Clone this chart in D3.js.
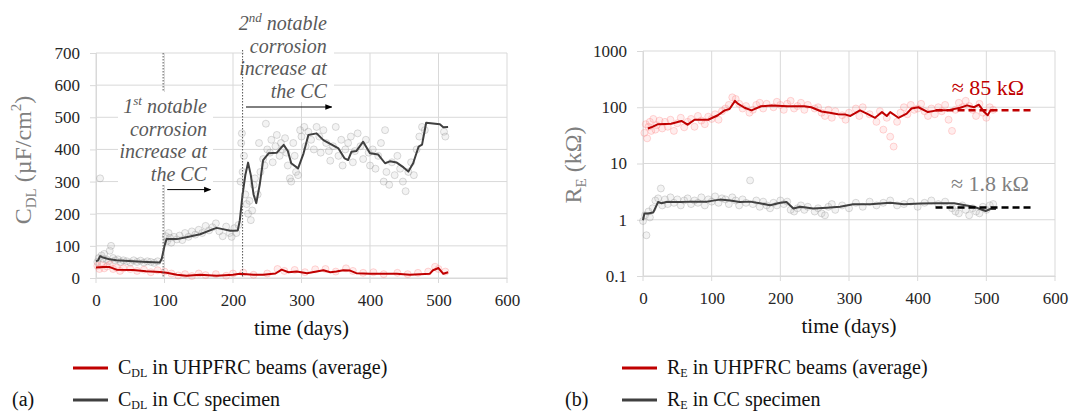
<!DOCTYPE html>
<meta charset="utf-8">
<head>
<script src="https://d3js.org/d3.v7.min.js"></script>
<style>
  body { margin: 0; background: #fff; }
  svg text { font-family: "Liberation Serif", "DejaVu Serif", serif !important; }
</style>
</head>
<body>
<div id="svg-container"></div>
</body>
<script>
const width = 1069;
const height = 411;

// axis ticks
const dayTicks = [0, 100, 200, 300, 400, 500, 600];
const cdlTicks = [0, 100, 200, 300, 400, 500, 600, 700];
const reTicks = [0.1, 1, 10, 100, 1000];

// (a) C_DL, µF/cm2 -- moving average lines [day, value]
const cdlCC = [[0,52],[3,55],[6,68],[9,65],[13,62],[20,58],[30,55],[54,52],[75,50],[93,48],[96,60],[100,100],[103,121],[118,121],[132,127],[152,136],[171,152],[176,156],[185,152],[196,147],[207,148],[210,180],[214,260],[218,320],[222,359],[226,320],[230,260],[234,233],[239,290],[244,367],[252,388],[264,390],[274,414],[280,395],[285,357],[295,341],[303,388],[310,445],[322,450],[332,429],[342,417],[354,403],[363,372],[368,367],[373,393],[380,395],[390,424],[400,388],[412,384],[422,357],[429,363],[439,359],[449,344],[456,331],[463,357],[471,409],[476,415],[482,483],[502,478],[507,469],[514,470]];
const cdlUH = [[0,33],[10,34],[20,34],[30,26],[54,25],[73,21],[93,19],[103,16],[118,10],[132,7],[152,10],[176,7],[200,10],[210,13],[230,10],[244,10],[262,14],[271,26],[281,18],[293,20],[308,15],[332,24],[342,18],[351,20],[361,24],[371,23],[380,15],[400,13],[419,13],[439,13],[458,10],[473,12],[487,13],[492,24],[500,31],[507,13],[514,18]];

// (a) individual measurements
const cdlCCPts = [[2,50],[4,62],[6,310],[8,70],[10,60],[12,75],[15,58],[18,52],[20,85],[22,100],[25,62],[28,55],[32,58],[36,50],[40,55],[45,52],[50,48],[55,55],[60,50],[65,54],[70,48],[75,52],[80,50],[85,47],[90,52],
  [102,130],[104,115],[106,140],[108,125],[110,110],[114,128],[118,120],[122,132],[126,118],[130,140],[135,128],[140,145],[145,135],[150,150],[155,140],[160,162],[165,148],[170,158],[175,170],[180,145],[185,130],[190,160],[195,140],[198,128],[202,155],[205,140],[208,165],
  [211,300],[212,420],[213,450],[214,330],[216,380],[218,260],[220,230],[222,200],[224,240],[226,180],[228,210],[230,290],[232,310],[236,260],[238,420],[240,330],[244,370],[246,350],[248,480],[250,400],
  [254,390],[256,430],[258,360],[262,410],[264,445],[268,380],[270,420],[272,400],[276,435],[278,390],[280,350],[283,310],[285,300],[288,420],[290,380],[292,330],[295,320],[298,460],[300,440],
  [304,470],[306,410],[310,455],[314,430],[318,400],[322,470],[326,440],[328,390],[332,460],[336,420],[340,395],[342,365],[346,410],[350,470],[354,380],[358,430],[360,350],
  [364,400],[368,420],[372,440],[375,360],[378,395],[382,450],[386,410],[390,370],[394,430],[398,390],[400,350],[404,400],[408,340],[412,380],[416,420],[420,300],
  [422,460],[424,330],[428,290],[432,360],[436,320],[440,380],[444,340],[448,300],[452,270],[456,330],[460,360],[464,320],[468,400],[472,440],[476,470],[480,460],[508,455],[510,440]];
const cdlUHPts = [[2,38],[5,28],[8,40],[12,30],[16,36],[20,42],[25,28],[30,32],[35,22],[40,30],[50,28],[60,22],[70,26],[80,18],[90,24],[100,20],[110,14],[120,8],[130,12],[140,6],[150,14],[160,9],[175,12],[190,7],[200,14],[215,17],[230,10],[250,14],[265,28],[275,22],[290,25],[305,18],[320,27],[335,28],[350,20],[365,30],[375,22],[390,16],[405,18],[420,12],[440,16],[455,12],[470,16],[485,20],[495,35],[500,28],[510,20]];

// (b) R_E, kOhm -- moving average lines
const reUH = [[7,42],[12,44],[22,50],[41,51],[56,57],[65,49],[75,60],[95,60],[109,72],[119,88],[126,93],[134,130],[138,116],[148,98],[158,88],[172,104],[187,107],[211,104],[235,104],[245,100],[260,84],[272,80],[284,75],[295,74],[302,70],[316,88],[326,77],[338,65],[348,82],[355,70],[360,82],[372,65],[384,77],[391,95],[401,100],[415,82],[428,88],[443,88],[462,98],[472,108],[482,100],[489,111],[497,82],[502,72],[506,88],[511,88]];
const reCC = [[0,0.98],[2,1.29],[7,1.29],[15,1.35],[22,2.07],[27,1.97],[34,2.07],[54,2.07],[73,2.1],[93,2.1],[112,2.28],[127,2.2],[141,2.07],[156,2.1],[170,1.97],[185,1.81],[200,2.0],[209,2.07],[219,1.58],[229,1.7],[248,1.58],[268,1.64],[287,1.7],[306,1.88],[331,1.88],[360,2.0],[380,1.88],[404,1.94],[428,1.97],[453,1.97],[467,1.83],[482,1.7],[499,1.43],[506,1.55],[514,1.55]];

// (b) individual measurements
const reUHPts = [[2,35],[4,50],[6,28],[8,45],[10,55],[12,38],[15,62],[18,40],[20,48],[24,58],[28,42],[32,55],[36,45],[40,60],[45,38],[50,52],[55,65],[60,44],[65,55],[70,62],[75,45],[80,70],[85,58],[90,50],[95,68],[100,62],[105,75],[110,60],[115,85],[120,95],[125,110],[130,150],[135,140],[140,115],[145,95],[150,105],[155,80],[160,90],[165,110],[170,120],[175,95],[180,115],[190,100],[195,125],[200,110],[205,90],[210,115],[215,130],[220,95],[225,105],[230,120],[235,90],[240,110],[250,95],[255,100],[260,80],[265,70],[270,90],[275,65],[280,85],[290,72],[295,60],[300,80],[310,95],[315,70],[320,100],[330,75],[340,55],[345,85],[350,40],[355,65],[360,30],[365,20],[370,55],[375,80],[380,100],[385,75],[390,110],[395,90],[400,95],[405,115],[410,85],[415,70],[420,95],[425,75],[430,100],[435,85],[440,110],[445,60],[450,38],[455,90],[460,120],[465,100],[470,130],[475,105],[480,90],[485,70],[490,115],[495,80],[500,65],[505,100],[510,90]];
const reCCPts = [[0,0.95],[3,1.2],[5,0.53],[8,1.4],[10,1.1],[14,1.6],[18,2.2],[22,2.4],[26,3.6],[28,1.8],[32,2.3],[36,1.9],[40,2.5],[45,2.0],[50,2.3],[55,1.8],[60,2.2],[65,2.4],[70,1.9],[75,2.2],[80,2.0],[85,2.5],[90,1.8],[95,2.3],[100,2.1],[105,2.6],[110,2.0],[115,2.4],[120,2.3],[125,1.9],[130,2.5],[135,2.2],[140,1.8],[145,2.3],[150,2.0],[156,5.0],[160,1.9],[165,2.2],[170,1.7],[175,2.1],[180,1.8],[185,1.6],[190,2.0],[195,1.8],[200,2.2],[205,1.9],[210,2.1],[215,1.5],[220,1.4],[225,1.6],[230,1.8],[235,1.5],[240,1.7],[250,1.4],[255,1.6],[260,1.3],[265,1.2],[270,1.7],[275,1.9],[280,1.5],[290,1.8],[300,1.6],[310,2.0],[320,1.7],[330,2.1],[340,1.8],[350,2.0],[360,2.2],[370,1.8],[380,1.9],[390,2.1],[400,1.7],[410,2.0],[420,2.2],[430,1.9],[440,2.1],[450,1.6],[455,1.4],[460,1.3],[465,1.8],[470,1.5],[475,1.2],[480,1.6],[485,1.4],[490,1.3],[495,1.7],[500,1.5],[505,1.8],[510,1.9]];

// events and reference levels
const eventDays = [98, 214];
const refSpan = [426, 565];
const refUH = 88, refCC = 1.65;

const red = "#c00000", dark = "#404040", grid = "#d9d9d9";
const serif = "'Liberation Serif', 'DejaVu Serif', serif";

const svg = d3.select("#svg-container").append("svg")
    .attr("width", width).attr("height", height)
    .attr("font-family", serif);

svg.append("defs").append("marker")
    .attr("id", "arrow").attr("viewBox", "0 0 10 10")
    .attr("refX", 9).attr("refY", 5)
    .attr("markerWidth", 7).attr("markerHeight", 7)
    .attr("orient", "auto")
  .append("path").attr("d", "M0,1 L10,5 L0,9 z").attr("fill", "#000");

function drawPanel(opt) {
    const x = d3.scaleLinear().domain([0, 600]).range([opt.x0, opt.x1]);
    const y = opt.y;
    const g = svg.append("g");

    // gridlines
    g.append("g").selectAll("line").data(opt.yTicks).join("line")
        .attr("x1", opt.x0).attr("x2", opt.x1)
        .attr("y1", d => y(d)).attr("y2", d => y(d))
        .attr("stroke", grid);
    g.append("g").selectAll("line").data(dayTicks).join("line")
        .attr("x1", d => x(d)).attr("x2", d => x(d))
        .attr("y1", y.range()[1]).attr("y2", y.range()[0] + 5)
        .attr("stroke", grid);

    // axes
    const xa = g.append("g").attr("transform", `translate(0,${y.range()[0]})`)
        .call(d3.axisBottom(x).tickValues(dayTicks).tickSize(0).tickPadding(16));
    xa.attr("font-family", serif);
    xa.select(".domain").attr("stroke", grid);
    xa.selectAll("text").attr("font-size", 17).attr("fill", "#262626");

    const ya = g.append("g").attr("transform", `translate(${opt.x0},0)`)
        .call(d3.axisLeft(y).tickValues(opt.yTicks).tickFormat(opt.fmt).tickSize(6).tickPadding(10));
    ya.attr("font-family", serif);
    ya.select(".domain").attr("stroke", grid);
    ya.selectAll(".tick line").attr("stroke", grid);
    ya.selectAll("text").attr("font-size", 17).attr("fill", "#262626");

    g.append("text")
        .attr("x", (opt.x0 + opt.x1) / 2).attr("y", y.range()[0] + 57)
        .attr("text-anchor", "middle").attr("font-size", 21).attr("fill", "#111")
        .text("time (days)");

    return { g, x, y };
}

function drawSeries(p, pts, line, col, ptFill, ptStroke) {
    p.g.append("g").selectAll("circle").data(pts).join("circle")
        .attr("cx", d => p.x(d[0])).attr("cy", d => p.y(d[1])).attr("r", 3.5)
        .attr("fill", ptFill).attr("fill-opacity", 0.18)
        .attr("stroke", ptStroke).attr("stroke-opacity", 0.3).attr("stroke-width", 1);
    p.g.append("path").datum(line)
        .attr("d", d3.line().x(d => p.x(d[0])).y(d => p.y(d[1])))
        .attr("fill", "none").attr("stroke", col).attr("stroke-width", 2)
        .attr("stroke-linejoin", "round");
}

function legend(x0, sym, sub, y1) {
    const items = [[red, " in UHPFRC beams (average)"], [dark, " in CC specimen"]];
    items.forEach((it, i) => {
        const yy = y1 + i * 32;
        svg.append("line").attr("x1", x0).attr("x2", x0 + 35)
            .attr("y1", yy).attr("y2", yy)
            .attr("stroke", it[0]).attr("stroke-width", 3);
        const t = svg.append("text").attr("x", x0 + 45).attr("y", yy + 6)
            .attr("font-size", 20).attr("fill", "#111");
        t.append("tspan").text(sym);
        t.append("tspan").attr("font-size", 12).attr("dy", 3).text(sub);
        t.append("tspan").attr("dy", -3).text(it[1]);
    });
}

// ---------- panel (a) ----------
const yA = d3.scaleLinear().domain([0, 700]).range([278, 53]);
const pa = drawPanel({ x0: 96, x1: 507, y: yA, yTicks: cdlTicks, fmt: d3.format("d") });

drawSeries(pa, cdlCCPts, cdlCC, dark, "#bfbfbf", "#8c8c8c");
drawSeries(pa, cdlUHPts, cdlUH, red, "#ff9999", "#ff7f7f");

// event lines
pa.g.append("g").selectAll("line").data(eventDays).join("line")
    .attr("x1", d => pa.x(d)).attr("x2", d => pa.x(d))
    .attr("y1", (d, i) => i ? 50 : 53).attr("y2", 278)
    .attr("stroke", "#555").attr("stroke-width", 1).attr("stroke-dasharray", "1.5,1.5");

// annotation boxes + text
function annotation(p, ord, sup, xr, vTop, box) {
    p.g.append("rect").attr("x", box[0]).attr("y", box[1])
        .attr("width", box[2]).attr("height", box[3]).attr("fill", "#fff");
    const lines = ["notable", "corrosion", "increase at", "the CC"];
    lines.forEach((l, i) => {
        const t = p.g.append("text")
            .attr("x", p.x(xr)).attr("y", p.y(vTop) + i * 22.5)
            .attr("text-anchor", "end").attr("font-style", "italic")
            .attr("font-size", 20).attr("fill", "#595959");
        if (i === 0) {
            t.append("tspan").text(ord);
            t.append("tspan").attr("font-size", 13).attr("dy", -8).text(sup);
            t.append("tspan").attr("dy", 8).text(" " + l);
        } else t.text(l);
    });
}
annotation(pa, "1", "st", 162, 513, [118, 92, 95, 93]);
annotation(pa, "2", "nd", 337, 771, [244, 0, 90, 102]);

pa.g.append("line").attr("x1", pa.x(104)).attr("x2", pa.x(167))
    .attr("y1", pa.y(275)).attr("y2", pa.y(275))
    .attr("stroke", "#000").attr("stroke-width", 1).attr("marker-end", "url(#arrow)");
pa.g.append("line").attr("x1", pa.x(219)).attr("x2", pa.x(344))
    .attr("y1", pa.y(532)).attr("y2", pa.y(532))
    .attr("stroke", "#000").attr("stroke-width", 1).attr("marker-end", "url(#arrow)");

// y title (a)
const tA = svg.append("text").attr("transform", "translate(31,160) rotate(-90)")
    .attr("text-anchor", "middle").attr("font-size", 24).attr("fill", "#808080");
tA.append("tspan").text("C");
tA.append("tspan").attr("font-size", 15).attr("dy", 5).text("DL");
tA.append("tspan").attr("dy", -5).text(" (µF/cm");
tA.append("tspan").attr("font-size", 15).attr("dy", -10).text("2");
tA.append("tspan").attr("dy", 10).text(")");

legend(73, "C", "DL", 368);
svg.append("text").attr("x", 12).attr("y", 406).attr("font-size", 20).attr("fill", "#111").text("(a)");

// ---------- panel (b) ----------
const yB = d3.scaleLog().domain([0.1, 1000]).range([276, 51]);
const pb = drawPanel({ x0: 643, x1: 1055, y: yB, yTicks: reTicks, fmt: d => String(d) });

drawSeries(pb, reUHPts, reUH, red, "#ff9999", "#ff7f7f");
drawSeries(pb, reCCPts, reCC, dark, "#bfbfbf", "#8c8c8c");

// reference levels
[[refUH, red], [refCC, "#000"]].forEach(r => {
    pb.g.append("line").attr("x1", pb.x(refSpan[0])).attr("x2", pb.x(refSpan[1]))
        .attr("y1", pb.y(r[0])).attr("y2", pb.y(r[0]))
        .attr("stroke", r[1]).attr("stroke-width", 2.5).attr("stroke-dasharray", "7,4");
});
pb.g.append("text").attr("x", 988).attr("y", 95).attr("text-anchor", "middle")
    .attr("font-size", 22).attr("fill", red).text("≈ 85 kΩ");
pb.g.append("text").attr("x", 990).attr("y", 191).attr("text-anchor", "middle")
    .attr("font-size", 22).attr("fill", "#808080").text("≈ 1.8 kΩ");

const tB = svg.append("text").attr("transform", "translate(581,165) rotate(-90)")
    .attr("text-anchor", "middle").attr("font-size", 24).attr("fill", "#808080");
tB.append("tspan").text("R");
tB.append("tspan").attr("font-size", 15).attr("dy", 5).text("E");
tB.append("tspan").attr("dy", -5).text(" (kΩ)");

legend(622, "R", "E", 368);
svg.append("text").attr("x", 565).attr("y", 406).attr("font-size", 20).attr("fill", "#111").text("(b)");
</script>
